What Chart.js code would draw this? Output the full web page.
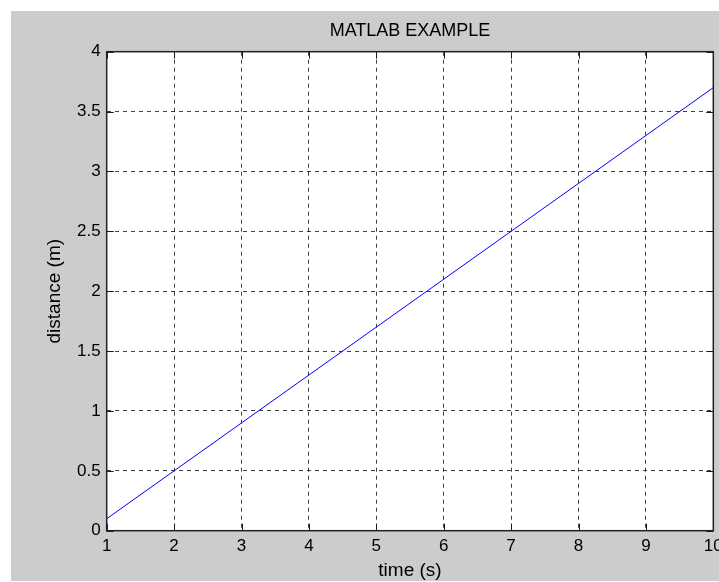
<!DOCTYPE html>
<html>
<head>
<meta charset="utf-8">
<script src="https://cdn.jsdelivr.net/npm/chart.js@4"></script>
<style>
  html, body { margin: 0; padding: 0; background: #fff; overflow: hidden; width: 719px; height: 582px; }
  #wrap { position: absolute; left: 0; top: 0; width: 735px; height: 582px; }
</style>
</head>
<body>
<div id="wrap"><canvas id="myChart"></canvas></div>
<script>
// data
var timeValues = [1, 2, 3, 4, 5, 6, 7, 8, 9, 10];
var distanceValues = [0.1, 0.5, 0.9, 1.3, 1.7, 2.1, 2.5, 2.9, 3.3, 3.7];
var xTickValues = [1, 2, 3, 4, 5, 6, 7, 8, 9, 10];
var yTickValues = [0, 0.5, 1, 1.5, 2, 2.5, 3, 3.5, 4];
var chartTitle = 'MATLAB EXAMPLE';

var fontFamily = '"Liberation Sans", Arial, Helvetica, sans-serif';

// gray figure background, white axes box, black frame, inner tick marks, title over the axes
var matlabFrame = {
  id: 'matlabFrame',
  beforeDraw: function(chart) {
    var ctx = chart.ctx, a = chart.chartArea;
    ctx.save();
    ctx.fillStyle = '#fff';
    ctx.fillRect(0, 0, chart.width, chart.height);
    ctx.fillStyle = '#cccccc';
    ctx.fillRect(11, 11, chart.width - 11, chart.height - 12);
    ctx.fillStyle = '#fff';
    ctx.fillRect(a.left, a.top, a.right - a.left, a.bottom - a.top);
    ctx.restore();
  },
  afterDraw: function(chart) {
    var ctx = chart.ctx, a = chart.chartArea;
    var xs = chart.scales.x, ys = chart.scales.y;
    var tl = 7;
    ctx.save();
    ctx.strokeStyle = '#1a1a1a';
    ctx.lineWidth = 1;
    ctx.beginPath();
    xTickValues.forEach(function(v) {
      var px = Math.round(xs.getPixelForValue(v)) + 0.5;
      ctx.moveTo(px, a.bottom); ctx.lineTo(px, a.bottom - tl);
      ctx.moveTo(px, a.top); ctx.lineTo(px, a.top + tl);
    });
    yTickValues.forEach(function(v) {
      var py = Math.round(ys.getPixelForValue(v)) + 0.5;
      ctx.moveTo(a.left, py); ctx.lineTo(a.left + tl, py);
      ctx.moveTo(a.right, py); ctx.lineTo(a.right - tl, py);
    });
    ctx.stroke();
    ctx.lineWidth = 1.5;
    ctx.strokeStyle = '#222';
    ctx.strokeRect(a.left, a.top, a.right - a.left, a.bottom - a.top);

    ctx.fillStyle = '#000';
    ctx.font = '18px ' + fontFamily;
    ctx.textAlign = 'center';
    ctx.textBaseline = 'middle';
    ctx.fillText(chartTitle, (a.left + a.right) / 2, 31);
    ctx.restore();
  }
};

var ctx = document.getElementById('myChart').getContext('2d');
var myChart = new Chart(ctx, {
  type: 'line',
  data: {
    datasets: [{
      label: 'distance',
      data: timeValues.map(function(t, i) { return { x: t, y: distanceValues[i] }; }),
      borderColor: '#0000ff',
      borderWidth: 1,
      pointRadius: 0,
      fill: false,
      tension: 0
    }]
  },
  options: {
    responsive: true,
    maintainAspectRatio: false,
    animation: false,
    layout: { padding: { top: 51.7, left: 0, right: 21.7, bottom: 0 } },
    plugins: {
      legend: { display: false },
      tooltip: { enabled: false },
      title: { display: false }
    },
    scales: {
      x: {
        type: 'linear',
        min: 1,
        max: 10,
        afterBuildTicks: function(scale) {
          scale.ticks = xTickValues.map(function(v) { return { value: v }; });
        },
        afterFit: function(scale) { scale.height = 51.3; },
        grid: { color: 'rgba(0,0,0,0.75)', lineWidth: 1, drawTicks: false },
        border: { display: false, dash: [4, 4] },
        ticks: {
          color: '#000', padding: 5, maxRotation: 0, autoSkip: false,
          font: { family: fontFamily, size: 17 },
          callback: function(v) { return String(v); }
        },
        title: {
          display: true,
          text: 'time (s)',
          color: '#000',
          font: { family: fontFamily, size: 19 },
          padding: { top: 0, bottom: 0 }
        }
      },
      y: {
        type: 'linear',
        min: 0,
        max: 4,
        afterBuildTicks: function(scale) {
          scale.ticks = yTickValues.map(function(v) { return { value: v }; });
        },
        afterFit: function(scale) { scale.width = 106.7; },
        grid: { color: 'rgba(0,0,0,0.75)', lineWidth: 1, drawTicks: false },
        border: { display: false, dash: [4, 4] },
        ticks: {
          color: '#000', padding: 6, autoSkip: false,
          font: { family: fontFamily, size: 17 },
          callback: function(v) { return String(v); }
        },
        title: {
          display: true,
          text: 'distance (m)',
          color: '#000',
          font: { family: fontFamily, size: 19 },
          padding: { top: 43.6, bottom: 0 }
        }
      }
    }
  },
  plugins: [matlabFrame]
});
</script>
</body>
</html>
